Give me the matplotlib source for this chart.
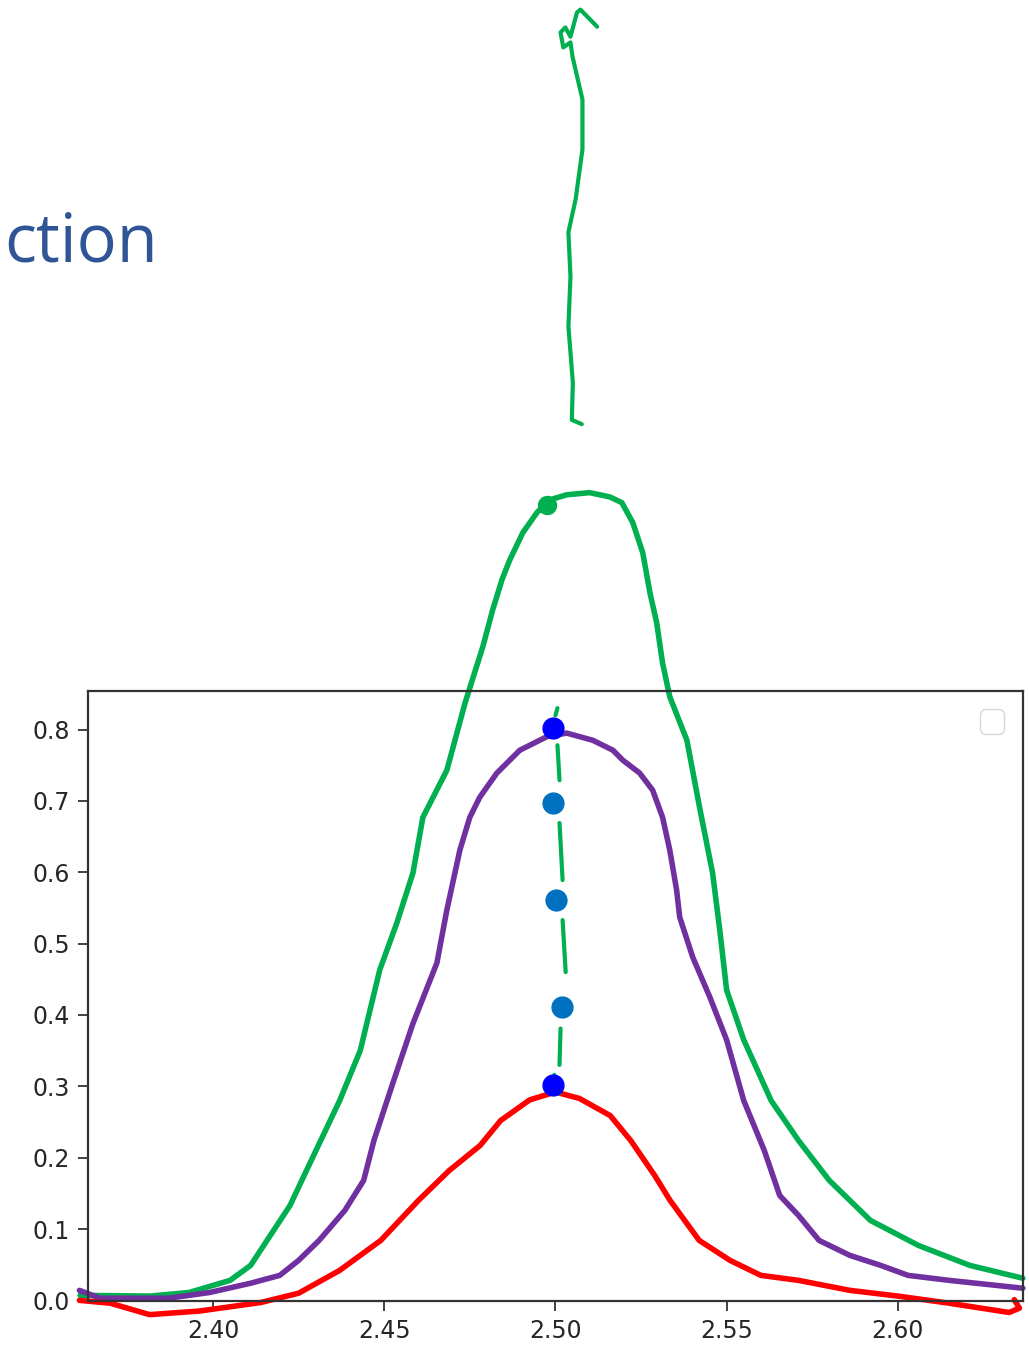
import matplotlib
matplotlib.use('Agg')
from matplotlib import pyplot as plt

# hand-traced curves (x, y in data units)
green_x = [2.3612, 2.3816, 2.393, 2.405, 2.411, 2.4225, 2.428, 2.437, 2.443, 2.4487, 2.4537, 2.4584,
           2.4613, 2.4683, 2.4736, 2.4788, 2.4817, 2.4844, 2.4867, 2.4905, 2.4946, 2.4984, 2.5033,
           2.5100, 2.5159, 2.5194, 2.5226, 2.5255, 2.5276, 2.5296, 2.5313, 2.5334, 2.5384, 2.5421,
           2.5459, 2.548, 2.550, 2.555, 2.563, 2.571, 2.580, 2.592, 2.606, 2.621, 2.6365]
green_y = [0.007, 0.006, 0.011, 0.028, 0.049, 0.133, 0.189, 0.280, 0.350, 0.463, 0.529, 0.599,
           0.677, 0.743, 0.837, 0.916, 0.968, 1.010, 1.038, 1.076, 1.104, 1.122, 1.129,
           1.132, 1.126, 1.118, 1.090, 1.048, 0.992, 0.949, 0.893, 0.846, 0.785, 0.691,
           0.599, 0.519, 0.435, 0.365, 0.280, 0.224, 0.168, 0.112, 0.077, 0.049, 0.031]

purple_x = [2.361, 2.367, 2.387, 2.399, 2.411, 2.4195, 2.425, 2.431, 2.4385, 2.444, 2.447, 2.4525,
            2.4584, 2.4654, 2.4683, 2.4721, 2.4750, 2.4779, 2.4829, 2.4896, 2.4975, 2.5033, 2.5109,
            2.5168, 2.5197, 2.5246, 2.5284, 2.5313, 2.5334, 2.5354, 2.5363, 2.5401, 2.5451, 2.5500,
            2.555, 2.561, 2.5655, 2.571, 2.577, 2.586, 2.595, 2.603, 2.615, 2.6365]
purple_y = [0.014, 0.003, 0.003, 0.011, 0.024, 0.035, 0.056, 0.084, 0.126, 0.168, 0.224, 0.304,
            0.388, 0.473, 0.547, 0.631, 0.677, 0.705, 0.739, 0.771, 0.790, 0.795, 0.785,
            0.771, 0.757, 0.739, 0.715, 0.677, 0.631, 0.575, 0.537, 0.481, 0.425, 0.365,
            0.280, 0.210, 0.147, 0.119, 0.084, 0.063, 0.049, 0.035, 0.028, 0.017]

red_x = [2.361, 2.370, 2.3815, 2.396, 2.414, 2.425, 2.437, 2.449, 2.460, 2.469, 2.478, 2.484,
         2.4925, 2.500, 2.507, 2.516, 2.522, 2.529, 2.5335, 2.542, 2.551, 2.560, 2.571, 2.586,
         2.600, 2.615, 2.6325, 2.6355, 2.634]
red_y = [0.000, -0.004, -0.020, -0.015, -0.003, 0.010, 0.042, 0.084, 0.140, 0.182, 0.217, 0.252,
         0.281, 0.292, 0.283, 0.259, 0.224, 0.175, 0.140, 0.084, 0.056, 0.035, 0.028, 0.014,
         0.006, -0.004, -0.017, -0.011, 0.001]

# squiggle above the green peak
squig_x = [2.5077, 2.5048, 2.5051, 2.5038, 2.5044, 2.5038, 2.5059, 2.5079, 2.5079, 2.5050,
           2.5044, 2.5023, 2.5015, 2.5029, 2.5044, 2.5063, 2.5073, 2.5122]
squig_y = [1.228, 1.234, 1.286, 1.365, 1.435, 1.497, 1.543, 1.613, 1.683, 1.743,
           1.763, 1.756, 1.777, 1.784, 1.771, 1.805, 1.809, 1.785]

# green dash pieces along x = 2.50
dash_x = [(2.5006, 2.5000), (2.5006, 2.5012), (2.5012, 2.5021), (2.5021, 2.5030), (2.5015, 2.5012),
          (2.4997, 2.5012)]
dash_y = [(0.830, 0.820), (0.778, 0.729), (0.669, 0.589), (0.533, 0.460), (0.381, 0.330),
          (0.316, 0.290)]

dot_x = [2.4992, 2.4992]
dot_y = [0.802, 0.302]
blob_x = [2.4992, 2.5003, 2.5018]
blob_y = [0.697, 0.561, 0.411]

fig = plt.figure(figsize=(10.29, 13.47), dpi=100)
ax = fig.add_axes([0.0855, 0.0341, 0.9085, 0.4529])

lw = 4
style = dict(clip_on=False, solid_capstyle='round', solid_joinstyle='round')
ax.plot(green_x, green_y, color='#00B050', lw=lw, **style)
ax.plot(purple_x, purple_y, color='#7030A0', lw=lw, **style)
ax.plot(red_x, red_y, color='#FF0000', lw=lw, **style)
ax.plot(squig_x, squig_y, color='#00B050', lw=3, **style)
ax.plot([2.4975], [1.115], 'o', color='#00B050', ms=13, clip_on=False)

for xs, ys in zip(dash_x, dash_y):
    ax.plot(xs, ys, color='#00B050', lw=3, **style)

ax.plot(dot_x, dot_y, 'o', color='#0000FF', ms=15, clip_on=False)
ax.plot(blob_x, blob_y, 'o', color='#0070C0', ms=15, clip_on=False)

ax.set_xlim(2.3635, 2.6365)
ax.set_ylim(-0.001, 0.854)
ax.set_xticks([2.40, 2.45, 2.50, 2.55, 2.60])
ax.set_yticks([0.0, 0.1, 0.2, 0.3, 0.4, 0.5, 0.6, 0.7, 0.8])
ax.tick_params(labelsize=17, length=7, width=1.3, pad=6, colors='#333333', labelcolor='#262626')
for s in ax.spines.values():
    s.set_linewidth(1.6)
    s.set_color('#333333')

ax.legend(handles=[], loc='upper right', prop={'size': 22}, borderaxespad=0.6)

fig.text(0.004, 1 - 262 / 1347, 'ction', fontsize=48, color='#2F5597', family='Open Sans')

plt.savefig('out.png', dpi=100)
